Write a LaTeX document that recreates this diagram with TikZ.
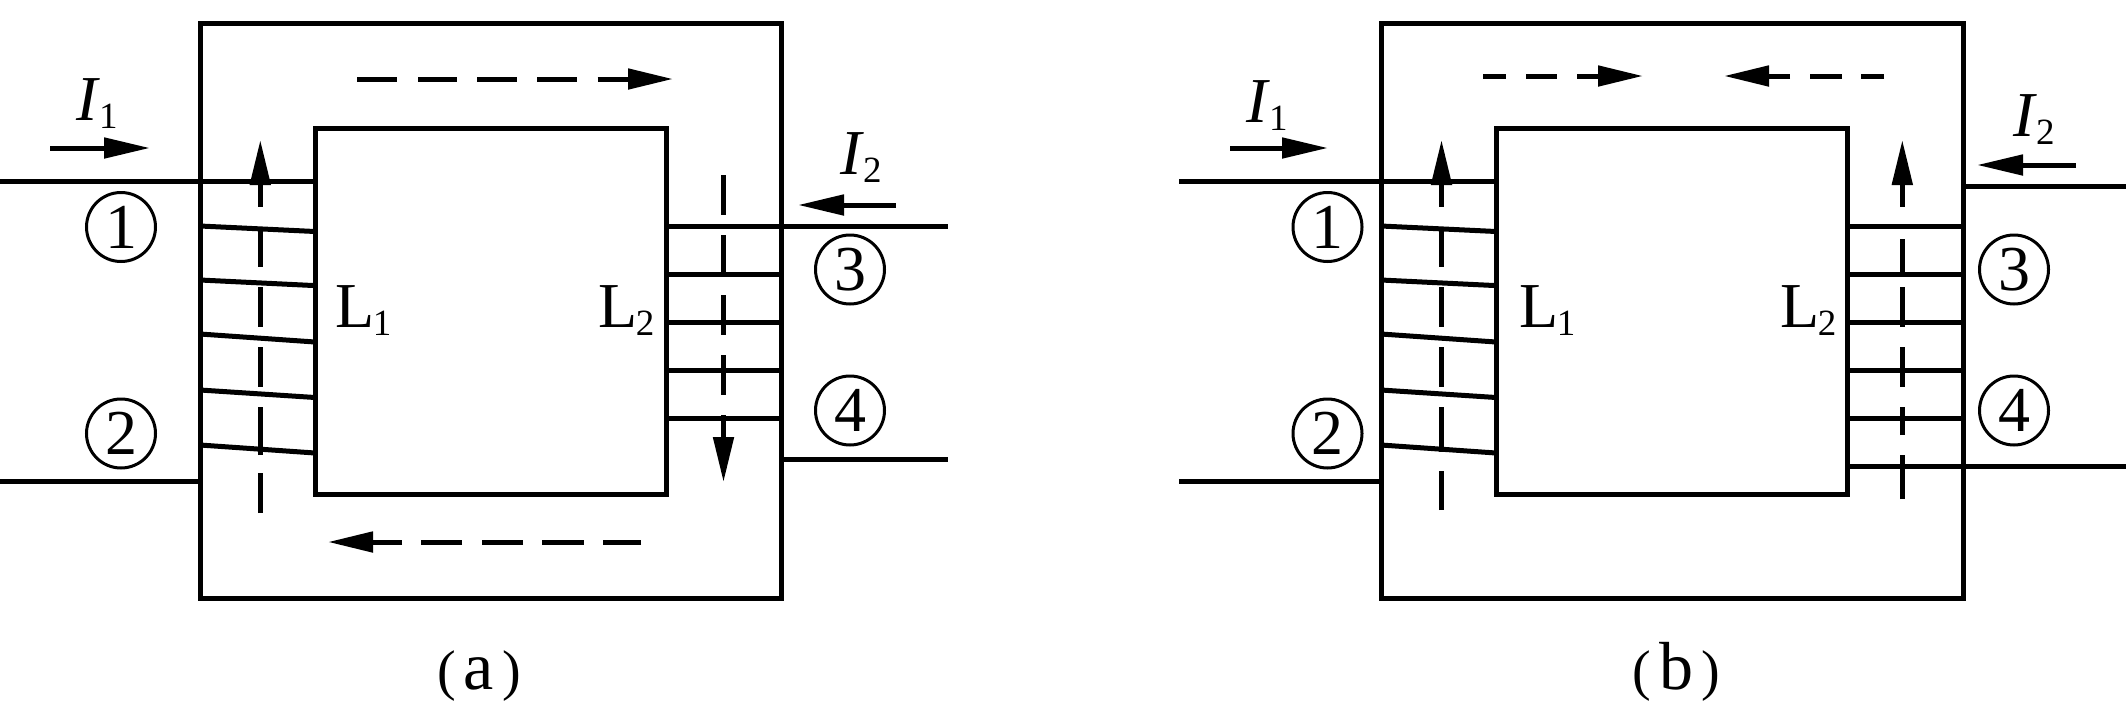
\documentclass[tikz,border=0pt]{standalone}
\usepackage{fontspec}
\setmainfont{Liberation Serif}
\usetikzlibrary{arrows.meta}
\newcommand{\TwoPartI}[1]{\textit{I}\kern-1pt\raisebox{-8pt}{\fontsize{37}{37}\selectfont #1}}
\newcommand{\TwoPartL}[1]{L\kern-1.5pt\raisebox{-8pt}{\fontsize{37}{37}\selectfont #1}}
\newcommand{\CapText}[1]{{\fontsize{56}{56}\selectfont(}\kern8pt#1\kern8pt{\fontsize{56}{56}\selectfont)}}
\tikzset{
  core/.style={draw=black,line width=5pt,miter limit=10},
  wire/.style={draw=black,line width=5pt},
  fluxarrow/.style={draw=black,line width=5pt,-{Triangle[length=45pt,width=20pt]}},
  currarrow/.style={draw=black,line width=5pt,-{Triangle[length=46pt,width=20pt]}},
  lab/.style={anchor=base west,inner sep=0pt,font=\fontsize{64}{64}\selectfont},
  numc/.style={draw=black,circle,line width=3pt,minimum size=69pt,inner sep=0pt,font=\fontsize{64}{64}\selectfont},
  capt/.style={anchor=base,inner sep=0pt,font=\fontsize{68}{68}\selectfont}
}
\begin{document}
\begin{tikzpicture}[x=1pt,y=-1pt]
\useasboundingbox[fill=white] (0,0) rectangle (2126,702);
% ---------- panel (a)
\draw[core] (200,23) rectangle (781,598);
\draw[core] (315,128.5) rectangle (666.5,494);
\draw[wire] (0,181) -- (315,181);
\draw[wire] (0,481) -- (200,481);
\foreach \ya/\yb in {226/231.5,280/285.6,334/342,390/397.5,445/453}
  \draw[wire] (200,\ya) -- (315,\yb);
\draw[wire] (666,226) -- (948,226);
\foreach \yy in {274,322,370.5,418.5}
  \draw[wire] (666,\yy) -- (781,\yy);
\draw[wire] (781,459) -- (948,459);
\draw[fluxarrow,dash pattern=on 40pt off 18pt on 48.3pt off 20pt on 40pt off 20pt on 40pt off 20pt on 36.7pt off 23.3pt on 200pt off 200pt] (260.3,513) -- (260.3,140);
\draw[fluxarrow,dash pattern=on 40pt off 20pt on 38pt off 22pt on 40pt off 20pt on 40pt off 20pt on 200pt off 200pt] (723.5,175) -- (723.5,482);
\draw[fluxarrow,dash pattern=on 40pt off 21pt on 39pt off 20pt on 40pt off 20pt on 40pt off 20.6pt on 200pt off 200pt] (357,79) -- (673,79);
\draw[fluxarrow,dash pattern=on 38pt off 19.5pt on 41.5pt off 19pt on 41.5pt off 19.5pt on 41pt off 19pt on 200pt off 200pt] (641,542) -- (328,542);
\draw[currarrow] (50,148) -- (150,148);
\draw[currarrow] (896,205) -- (798,205);
\node[lab] (ai1) at (76,120) {\TwoPartI{1}};
\node[lab] (ai2) at (840,174) {\TwoPartI{2}};
\node[lab] (al1) at (335,327) {\TwoPartL{1}};
\node[lab] (al2) at (598,327) {\TwoPartL{2}};
\node[numc] (an1) at (121,227) {1};
\node[numc] (an2) at (121,433.5) {2};
\node[numc] (an3) at (850,269.5) {3};
\node[numc] (an4) at (850,410.5) {4};
\node[capt] (acap) at (479,689) {\CapText{a}};
% ---------- panel (b)
\draw[core] (1381,23) rectangle (1963,598);
\draw[core] (1496,128.5) rectangle (1847.5,494);
\draw[wire] (1179,181) -- (1496,181);
\draw[wire] (1179,481) -- (1381,481);
\foreach \ya/\yb in {226/231.5,280/285.6,334/342,390/397.5,445/453}
  \draw[wire] (1381,\ya) -- (1496,\yb);
\foreach \yy in {226,274,322,370.5,418.5}
  \draw[wire] (1847,\yy) -- (1963,\yy);
\draw[wire] (1963,186) -- (2126,186);
\draw[wire] (1847,466.5) -- (2126,466.5);
\draw[fluxarrow,dash pattern=on 39.3pt off 19pt on 45pt off 20pt on 40pt off 20pt on 40pt off 20pt on 36.7pt off 23.3pt on 200pt off 200pt] (1441.5,510) -- (1441.5,140);
\draw[fluxarrow,dash pattern=on 44pt off 20pt on 28.3pt off 20pt on 40pt off 20pt on 40pt off 11.7pt on 36pt off 32.3pt on 200pt off 200pt] (1902.3,499) -- (1902.3,140);
\draw[fluxarrow,dash pattern=on 23pt off 20pt on 31pt off 20pt on 200pt off 200pt] (1483,76) -- (1643,76);
\draw[fluxarrow,dash pattern=on 23pt off 19pt on 32pt off 20pt on 200pt off 200pt] (1884,76) -- (1724,76);
\draw[currarrow] (1230,148) -- (1328,148);
\draw[currarrow] (2076,165) -- (1977,165);
\node[lab] (bi1) at (1246,122) {\TwoPartI{1}};
\node[lab] (bi2) at (2013,136) {\TwoPartI{2}};
\node[lab] (bl1) at (1519,327) {\TwoPartL{1}};
\node[lab] (bl2) at (1780,327) {\TwoPartL{2}};
\node[numc] (bn1) at (1327.5,227) {1};
\node[numc] (bn2) at (1327.5,433.5) {2};
\node[numc] (bn3) at (2014,269.5) {3};
\node[numc] (bn4) at (2014,410.5) {4};
\node[capt] (bcap) at (1676,689) {\CapText{b}};
\end{tikzpicture}
\end{document}
